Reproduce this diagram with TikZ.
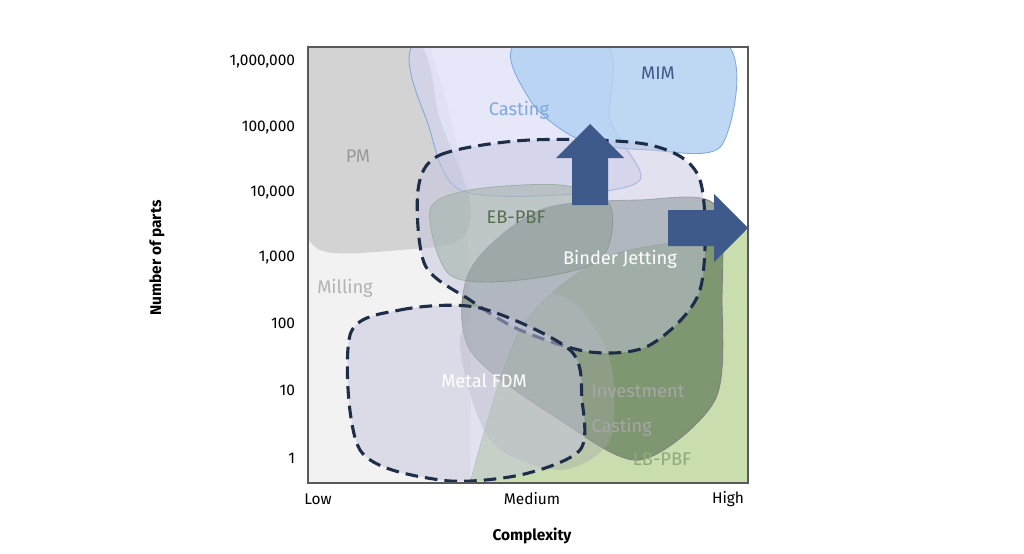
\documentclass[tikz,border=0pt]{standalone}
\usepackage{fontspec}
\setmainfont{Fira Sans}
\usetikzlibrary{positioning}
\definecolor{arrowblue}{HTML}{3E5A8A}
\definecolor{mimblue}{HTML}{B3D1F2}
\definecolor{castblue}{HTML}{7FA8DC}
\definecolor{lbgreen}{HTML}{C9DDAF}
\definecolor{ebgreen}{HTML}{7E9E6E}
\definecolor{darkdash}{HTML}{1F2E48}
\tikzset{
  blob/.style={line width=0.6pt, fill opacity=0.55},
  dashblob/.style={dash pattern=on 9pt off 5pt, line width=2.2pt, draw=darkdash, fill=gray!70!blue!35, fill opacity=0.5},
  axlabel/.style={font=\fontsize{11}{11}\selectfont, anchor=east},
  region/.style={font=\fontsize{13}{13}\selectfont},
  bigarrow/.style={fill=arrowblue, draw=none}
}
\begin{document}
\begin{tikzpicture}[x=0.025cm,y=-0.025cm]
\useasboundingbox (0,0) rectangle (1024,553);
% plot area
\begin{scope}
\clip (308,47) rectangle (748,483);
\fill[gray!10] (308,47) rectangle (748,483);
\fill[white] (430,47) rectangle (748,483);
\fill[gray!10] plot[smooth] coordinates {(430,47) (460,160) (470,300) (470,483)} -- (308,483) -- (308,47) -- cycle;
% LB-PBF
\fill[lbgreen, draw=ebgreen!70] plot[smooth] coordinates {(470,483) (520,330) (600,260) (690,240) (760,230)} -- (760,490) -- cycle;
% PM
\fill[gray!45, opacity=0.7] plot[smooth cycle] coordinates {(300,40) (415,40) (440,120) (470,200) (460,240) (400,250) (320,250) (300,200)};
% Casting
\fill[blob, fill=gray!30!blue!20, draw=castblue] plot[smooth cycle] coordinates {(418,40) (430,130) (460,190) (560,195) (640,180) (610,120) (600,40)};
% MIM
\fill[blob, fill=mimblue, draw=castblue, fill opacity=0.85] plot[smooth cycle] coordinates {(522,40) (530,100) (580,140) (650,150) (722,145) (722,40)};
% EB-PBF
\fill[blob, fill=ebgreen, draw=ebgreen] plot[smooth cycle] coordinates {(430,210) (470,190) (560,185) (610,205) (600,260) (520,280) (450,275)};
% Binder jetting region
\fill[blob, fill=gray!70!green!40!black, fill opacity=0.45, draw=gray] plot[smooth cycle] coordinates {(470,270) (540,210) (640,200) (715,205) (722,300) (715,400) (640,460) (560,420) (470,350)};
% Investment casting
\fill[blob, fill=gray!70, fill opacity=0.4] plot[smooth cycle] coordinates {(460,340) (500,290) (570,300) (610,360) (610,440) (560,470) (490,440)};
% dashed blobs
\filldraw[dashblob] plot[smooth cycle] coordinates {(418,190) (440,155) (530,140) (650,145) (700,180) (700,290) (650,345) (590,352) (520,330) (470,300) (425,265)};
\filldraw[dashblob] plot[smooth cycle] coordinates {(350,335) (400,310) (480,308) (570,350) (582,400) (580,450) (520,475) (440,480) (360,450)};
\end{scope}
\draw[gray!70!black, line width=0.8pt] (308,47) rectangle (748,483);
% arrows
\fill[bigarrow] (572,205) -- (572,158) -- (556,158) -- (590,124) -- (624,158) -- (608,158) -- (608,205) -- cycle;
\fill[bigarrow] (668,210) -- (714,210) -- (714,194) -- (748,228) -- (714,262) -- (714,246) -- (668,246) -- cycle;
% region labels
\node[region, text=arrowblue] (mim) at (658,73) {MIM};
\node[region, text=castblue] (casting) at (519,110) {Casting};
\node[region, text=gray!80] (pm) at (358,156) {PM};
\node[region, text=ebgreen!70!black] (ebpbf) at (516,217) {EB-PBF};
\node[region, text=white] (binder) at (620,259) {Binder Jetting};
\node[region, text=gray!60] (milling) at (345,288) {Milling};
\node[region, text=white] (fdm) at (484,381) {Metal FDM};
\node[region, text=gray!70, align=left, font=\fontsize{13}{25}\selectfont] (invest) at (638,411) {Investment\\Casting};
\node[region, text=ebgreen!80!lbgreen] (lbpbf) at (662,459) {LB-PBF};
% axes
\node[axlabel] (y6) at (300,62) {1,000,000};
\node[axlabel] (y5) at (300,128) {100,000};
\node[axlabel] (y4) at (300,193) {10,000};
\node[axlabel] (y3) at (300,258) {1,000};
\node[axlabel] (y2) at (300,323) {100};
\node[axlabel] (y1) at (300,390) {10};
\node[axlabel] (y0) at (300,458) {1};
\node[font=\fontsize{11}{11}\selectfont] (xlow) at (318,499) {Low};
\node[font=\fontsize{11}{11}\selectfont] (xmed) at (532,499) {Medium};
\node[font=\fontsize{11}{11}\selectfont] (xhigh) at (728,499) {High};
\node[font=\bfseries\fontsize{11}{11}\selectfont] (xtitle) at (532,536) {Complexity};
\node[font=\bfseries\fontsize{11}{11}\selectfont, rotate=90] (ytitle) at (157,258) {Number of parts};
\end{tikzpicture}
\end{document}
